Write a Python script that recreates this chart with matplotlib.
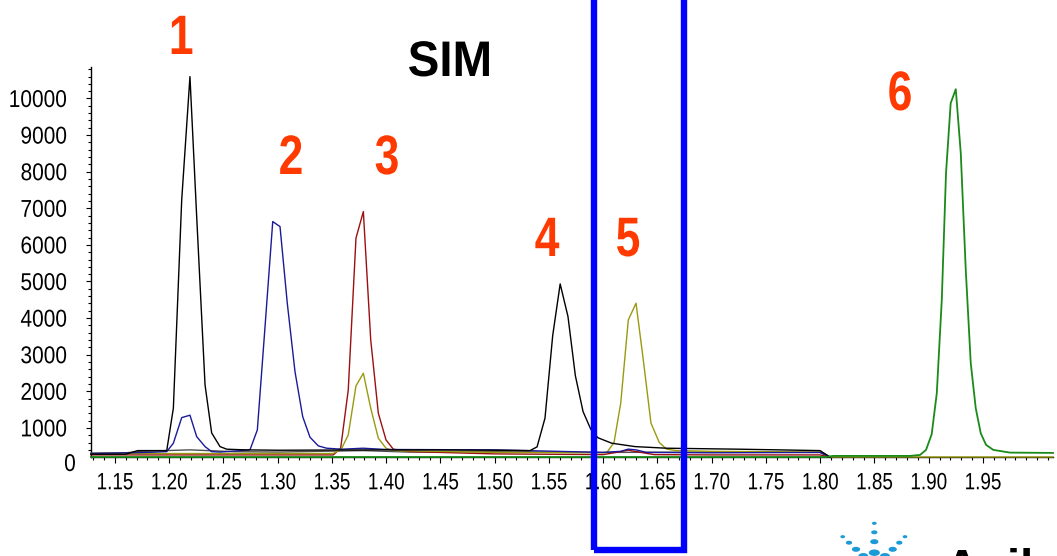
import matplotlib
matplotlib.use("Agg")
import matplotlib.pyplot as plt
from matplotlib.patches import Rectangle
from matplotlib.patheffects import AbstractPathEffect
from matplotlib.transforms import Affine2D
from matplotlib.path import Path
from matplotlib.ticker import MultipleLocator, FixedLocator

REG = "Liberation Sans"

# ---------------- data ----------------
black_t = [1.128, 1.160, 1.171, 1.1978, 1.2039, 1.2116, 1.2192, 1.2254, 1.2331, 1.2392,
           1.2469, 1.2531, 1.270, 1.300, 1.350, 1.400, 1.450, 1.500, 1.5326, 1.5391,
           1.5464, 1.5535, 1.5604, 1.5676, 1.5744, 1.5815, 1.5886, 1.5951, 1.6079,
           1.6294, 1.6586, 1.7262, 1.7999, 1.8091]
black_v = [281, 281, 380, 380, 1538, 7230, 10598, 6773, 2175, 863,
           489, 418, 400, 390, 395, 400, 398, 390, 380, 481,
           1265, 3519, 4934, 4041, 2426, 1445, 964, 732, 582,
           489, 445, 418, 380, 205]

gray_t = [1.128, 1.160, 1.175, 1.2192, 1.260, 1.300, 1.3790, 1.420, 1.500, 1.600,
          1.700, 1.7999, 1.8091]
gray_v = [310, 320, 360, 400, 350, 340, 380, 340, 350, 330, 340, 330, 205]

blue_t = [1.128, 1.180, 1.1978, 1.2039, 1.2116, 1.2192, 1.2254, 1.2331, 1.2392, 1.2469,
          1.2745, 1.2813, 1.2884, 1.2955, 1.3022, 1.3089, 1.3160, 1.3231, 1.3298,
          1.3375, 1.3452, 1.3591, 1.3787, 1.400, 1.500, 1.600, 1.6162, 1.6232,
          1.6303, 1.6400, 1.700, 1.7999, 1.8091]
blue_v = [300, 330, 352, 582, 1281, 1347, 762, 489, 352, 340,
          398, 945, 3768, 6637, 6500, 4407, 2538, 1309, 746,
          508, 445, 418, 445, 410, 400, 330, 360, 420,
          400, 330, 320, 330, 205]

red_t = [1.128, 1.3513, 1.3581, 1.3651, 1.3722, 1.3790, 1.3858, 1.3928, 1.3999, 1.4066,
         1.4220, 1.500, 1.600, 1.6100, 1.6232, 1.6350, 1.6470, 1.700, 1.7999, 1.8091]
red_v = [262, 262, 445, 2038, 6183, 6910, 3404, 1402, 672, 418,
         352, 290, 270, 320, 390, 330, 270, 262, 262, 205]

olive_t = [1.128, 1.3513, 1.3591, 1.3651, 1.3722, 1.3790, 1.3858, 1.3928, 1.3999, 1.4066,
           1.500, 1.5950, 1.6033, 1.6100, 1.6162, 1.6232, 1.6303, 1.6370, 1.6441,
           1.6518, 1.6586, 1.6678, 1.700, 1.7999, 1.8091, 2.0146]
olive_v = [300, 300, 445, 809, 2148, 2494, 1538, 719, 445, 380,
           330, 320, 325, 598, 1675, 3951, 4407, 2858, 1128,
           598, 418, 380, 360, 340, 205, 205]

green_t = [1.128, 1.805, 1.812, 1.8828, 1.8921, 1.8976, 1.9028, 1.9075, 1.9121, 1.9160,
           1.9203, 1.9250, 1.9296, 1.9342, 1.9388, 1.9434, 1.9480, 1.9529, 1.9596,
           1.9750, 2.0146]
green_v = [205, 205, 235, 235, 262, 399, 828, 1948, 4497, 7959,
           9872, 10254, 8505, 5317, 2768, 1538, 855, 536, 399,
           325, 317]

y_ticks = [1000, 2000, 3000, 4000, 5000, 6000, 7000, 8000, 9000, 10000]
x_ticks = [1.15, 1.20, 1.25, 1.30, 1.35, 1.40, 1.45, 1.50, 1.55, 1.60, 1.65, 1.70,
           1.75, 1.80, 1.85, 1.90, 1.95]
peak_labels = ["1", "2", "3", "4", "5", "6"]
peak_label_px = [(181, 40), (291, 160), (387, 160), (547, 242), (628, 242), (900, 96)]


class Squeeze(AbstractPathEffect):
    """Horizontally condense rendered text (reference uses a narrow font)."""
    def __init__(self, sx=0.8, anchor="center"):
        super().__init__()
        self.sx = sx
        self.anchor = anchor

    def draw_path(self, renderer, gc, tpath, affine, rgbFace=None):
        verts = tpath.vertices
        if tpath.codes is not None:
            verts = verts[tpath.codes != Path.CLOSEPOLY]
        if len(verts) == 0:
            renderer.draw_path(gc, tpath, affine, rgbFace)
            return
        d = affine.transform(verts)
        xmin, xmax = d[:, 0].min(), d[:, 0].max()
        px = {"center": 0.5 * (xmin + xmax), "right": xmax, "left": xmin}[self.anchor]
        t = affine + Affine2D().translate(-px, 0).scale(self.sx, 1).translate(px, 0)
        renderer.draw_path(gc, tpath, t, rgbFace)


# ---------------- figure ----------------
W, H = 1057, 556
fig = plt.figure(figsize=(W / 100, H / 100), dpi=100)
fig.patch.set_facecolor("white")
ax = fig.add_axes([91 / W, (H - 457) / H, (1053 - 91) / W, (457 - 67) / H])
ax.set_xlim(1.128, 2.0146)
ax.set_ylim(205, 10860)

lw = 1.0
ax.plot(gray_t, gray_v, color="#505050", lw=lw, clip_on=False, zorder=3)
ax.plot(red_t, red_v, color="#9b1010", lw=lw, clip_on=False, zorder=4)
ax.plot(olive_t, olive_v, color="#9a9a10", lw=lw, clip_on=False, zorder=4)
ax.plot(blue_t, blue_v, color="#1a1a9a", lw=lw, clip_on=False, zorder=5)
ax.plot(black_t, black_v, color="#000000", lw=lw, clip_on=False, zorder=6)
ax.plot(green_t, green_v, color="#1a8a1a", lw=1.3, clip_on=False, zorder=7)

for s in ["top", "right"]:
    ax.spines[s].set_visible(False)
ax.spines["left"].set_linewidth(1.0)
ax.spines["bottom"].set_linewidth(1.0)

ax.yaxis.set_major_locator(FixedLocator(y_ticks))
ax.yaxis.set_minor_locator(MultipleLocator(200))
ax.xaxis.set_major_locator(FixedLocator(x_ticks))
ax.xaxis.set_minor_locator(MultipleLocator(0.01))
ax.set_yticklabels([str(v) for v in y_ticks])
ax.set_xticklabels([f"{v:.2f}" for v in x_ticks])

ax.tick_params(axis="y", which="major", length=3.5, width=0.8, pad=13.5,
               labelsize=17.5, labelfontfamily=REG, direction="out")
ax.tick_params(axis="y", which="minor", length=2.5, width=0.8, direction="out")
ax.tick_params(axis="x", which="major", length=4.5, width=0.8, pad=6.5,
               labelsize=17, labelfontfamily=REG, direction="out")
ax.tick_params(axis="x", which="minor", length=2.5, width=0.8, direction="out")

fig.canvas.draw()
for tk in ax.yaxis.get_major_ticks():
    tk.label1.set_path_effects([Squeeze(0.86, "right")])
for tk in ax.xaxis.get_major_ticks():
    tk.label1.set_path_effects([Squeeze(0.80, "center")])

# the "0" label sits below the clipped baseline
fig.text(70 / W, 1 - 465 / H, "0", ha="center", va="center",
         fontsize=17.5, family=REG, color="black",
         path_effects=[Squeeze(0.86, "center")])

# title
fig.text(450 / W, 1 - 63 / H, "SIM", ha="center", va="center",
         fontsize=36, fontweight="bold", family=REG, color="black",
         path_effects=[Squeeze(0.95, "center")])

# peak numbers
for lab, (px, py) in zip(peak_labels, peak_label_px):
    fig.text(px / W, 1 - py / H, lab, ha="center", va="center",
             fontsize=40, fontweight="bold", family=REG, color="#ff3a00",
             path_effects=[Squeeze(0.80, "center")])

# blue highlight box
fig.add_artist(Rectangle((594.2 / W, 1 - 549.5 / H), (684 - 594.2) / W, 560 / H,
                         transform=fig.transFigure, fill=False,
                         edgecolor="#0000ff", lw=4.6, clip_on=False, zorder=10))

# partial logo at the bottom right
logo_x = [874.3, 874.3, 874.3, 874.3, 842.7, 849, 856, 863.3, 905, 899.3, 892.7, 885]
logo_y = [523.3, 532.3, 541.7, 552.7, 536.7, 542.7, 549.3, 556, 536.7, 542.7, 549.3, 556]
logo_r = [1.6, 2.4, 3.4, 4.8, 1.6, 2.4, 3.4, 4.2, 1.6, 2.4, 3.4, 4.2]
for x, y, r in zip(logo_x, logo_y, logo_r):
    fig.add_artist(plt.Circle((x / W, 1 - y / H), r / W, transform=fig.transFigure,
                              color="#1a9ad6", clip_on=False))
fig.text(945 / W, 1 - 548 / H, "Agilent", ha="left", va="top", fontsize=34,
         fontweight="bold", family=REG, color="black")

fig.savefig("out.png", dpi=100)
